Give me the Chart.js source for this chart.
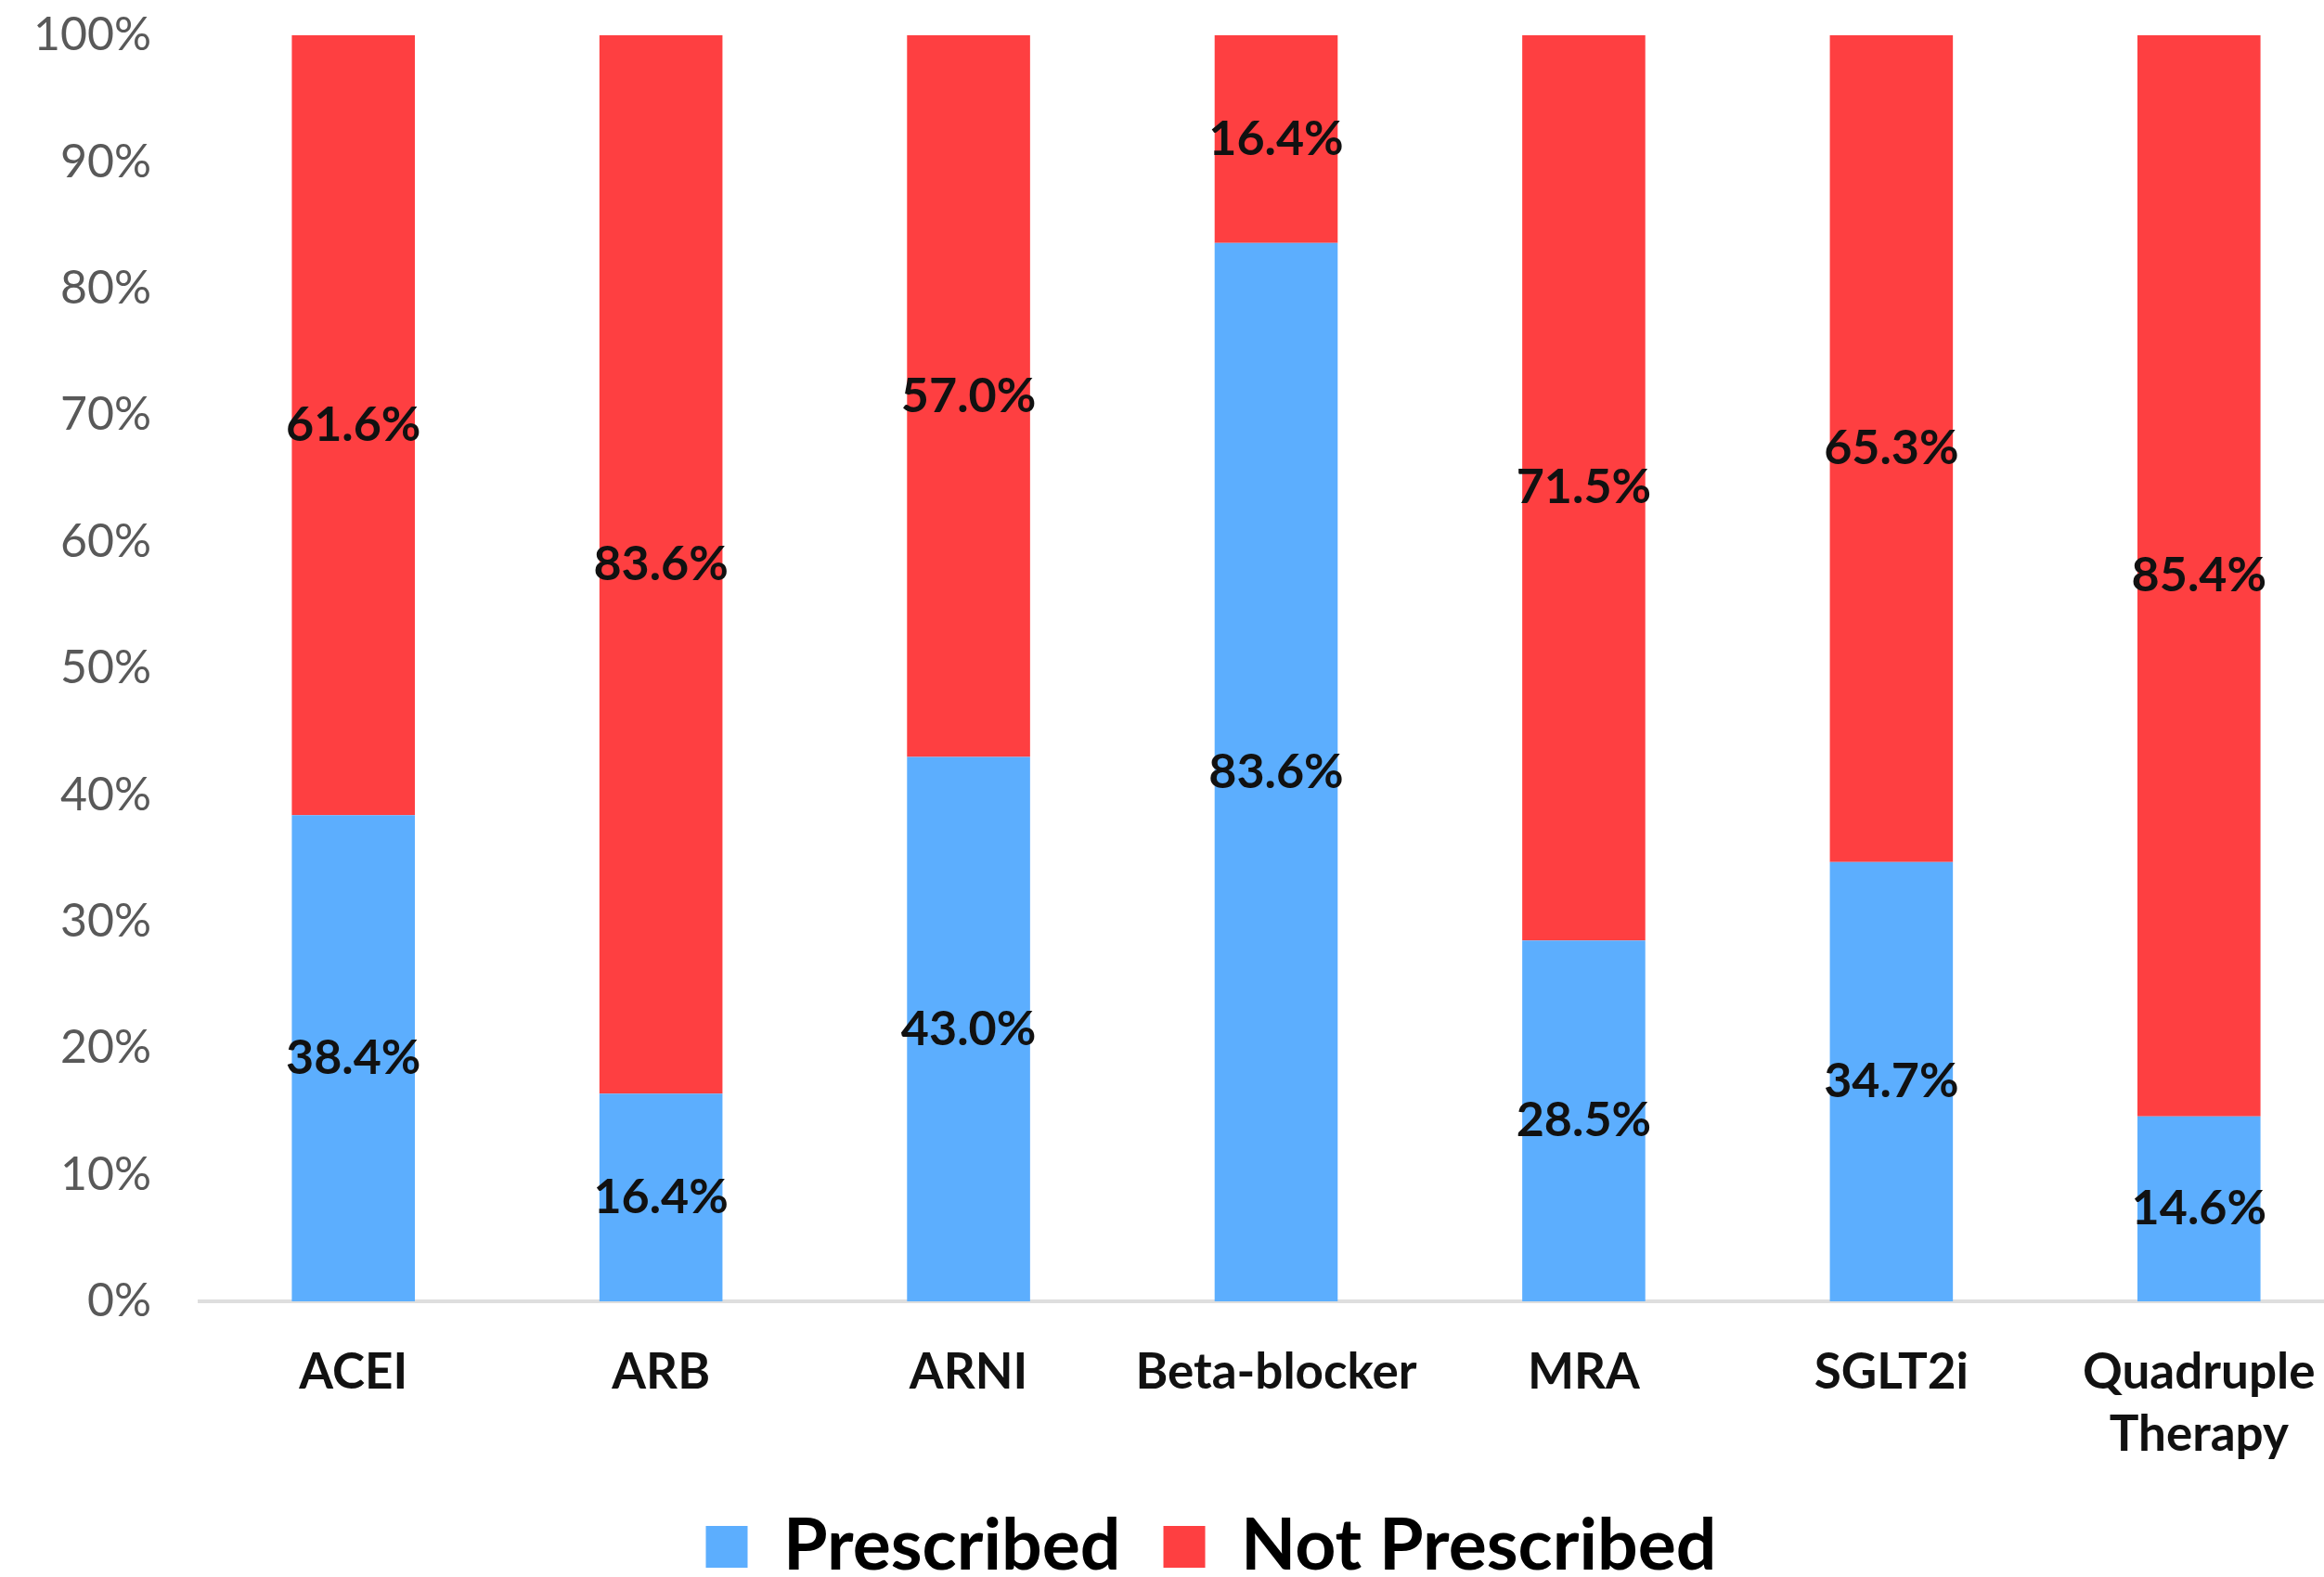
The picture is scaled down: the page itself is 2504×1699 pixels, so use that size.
<!DOCTYPE html>
<html>
<head>
<meta charset="utf-8">
<title>Prescription of heart failure therapies</title>
<script src="https://cdn.jsdelivr.net/npm/chart.js@4.4.1/dist/chart.umd.min.js"></script>
<style>
  html, body { margin: 0; padding: 0; background: #ffffff; overflow: hidden; }
  #wrap { position: absolute; left: 0; top: 0; }
</style>
</head>
<body>
<div id="wrap"><canvas id="chart" width="2610" height="1715"></canvas></div>
<script>
// Drug classes along the x axis
const categories = ['ACEI', 'ARB', 'ARNI', 'Beta-blocker', 'MRA', 'SGLT2i', ['Quadruple', 'Therapy']];
// Share of patients (%) per class
const prescribed    = [38.4, 16.4, 43.0, 83.6, 28.5, 34.7, 14.6];
const notPrescribed = [61.6, 83.6, 57.0, 16.4, 71.5, 65.3, 85.4];
const seriesNames = ['Prescribed', 'Not Prescribed'];
// Y axis range and tick step (%)
const yMin = 0, yMax = 100, yStep = 10;

const BLUE = '#5caefe';
const RED = '#fe3f41';
const FONT = 'Lato, "Liberation Sans", sans-serif';

// Writes each segment's value in the middle of its bar piece
const segmentLabels = {
  id: 'segmentLabels',
  afterDatasetsDraw(chart) {
    const ctx = chart.ctx;
    ctx.save();
    ctx.font = 'bold 52px ' + FONT;
    ctx.fillStyle = '#111111';
    ctx.textAlign = 'center';
    ctx.textBaseline = 'middle';
    chart.data.datasets.forEach((ds, di) => {
      const meta = chart.getDatasetMeta(di);
      meta.data.forEach((bar, i) => {
        const v = ds.data[i];
        const y = (bar.y + bar.base) / 2;
        ctx.fillText(v.toFixed(1) + '%', bar.x, y);
      });
    });
    ctx.restore();
  }
};

new Chart(document.getElementById('chart'), {
  type: 'bar',
  data: {
    labels: categories,
    datasets: [
      { label: seriesNames[0], data: prescribed, backgroundColor: BLUE, borderWidth: 0 },
      { label: seriesNames[1], data: notPrescribed, backgroundColor: RED, borderWidth: 0 }
    ]
  },
  options: {
    responsive: false,
    animation: false,
    devicePixelRatio: 1,
    layout: { padding: { left: 0, right: 0, top: 38, bottom: 0 } },
    datasets: { bar: { categoryPercentage: 1.0, barPercentage: 0.4 } },
    plugins: {
      tooltip: { enabled: false },
      legend: {
        position: 'bottom',
        labels: {
          boxWidth: 45,
          boxHeight: 45,
          padding: 46,
          color: '#000000',
          font: { family: FONT, size: 77, weight: 'bold' }
        }
      }
    },
    scales: {
      x: {
        stacked: true,
        grid: { display: false, drawTicks: false },
        border: { display: true, color: '#dedede', width: 4 },
        ticks: {
          padding: 43,
          color: '#111111',
          maxRotation: 0,
          autoSkip: false,
          font: { family: FONT, size: 53, weight: 'bold', lineHeight: 1.27 }
        },
        afterFit(scale) { scale.height = 180; }
      },
      y: {
        stacked: true,
        min: yMin,
        max: yMax,
        grid: { display: false, drawTicks: false },
        border: { display: false },
        ticks: {
          stepSize: yStep,
          padding: 52,
          color: '#595959',
          font: { family: FONT, size: 50 },
          callback: v => v + '%'
        },
        afterFit(scale) {
          scale.width = 215;
          scale.paddingTop = 0;
          scale.paddingBottom = 0;
        }
      },
      // empty right-hand margin axis; keeps the plot's right edge where the bars end
      yRight: {
        position: 'right',
        display: true,
        grid: { display: false, drawTicks: false },
        border: { display: false },
        ticks: { display: false },
        afterFit(scale) {
          scale.width = 75;
          scale.paddingTop = 0;
          scale.paddingBottom = 0;
        }
      }
    }
  },
  plugins: [segmentLabels]
});
</script>
</body>
</html>
